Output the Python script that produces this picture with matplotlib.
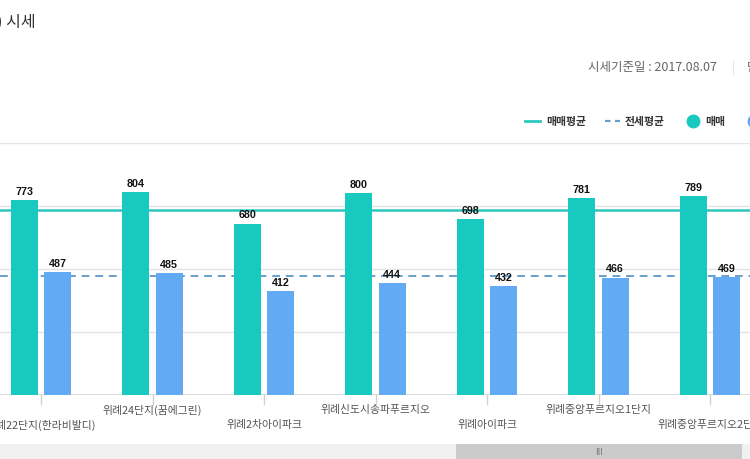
import matplotlib
matplotlib.use('Agg')
import matplotlib.pyplot as plt
import numpy as np
from matplotlib.patches import Rectangle
from matplotlib.lines import Line2D
from matplotlib.transforms import blended_transform_factory

plt.rcParams['font.family'] = ['Noto Sans CJK KR', 'DejaVu Sans']

# Data
complexes = ['위례22단지(한라비발디)', '위례24단지(꿈에그린)', '위례2차아이파크',
             '위례신도시송파푸르지오', '위례아이파크', '위례중앙푸르지오1단지',
             '위례중앙푸르지오2단지']
sale = [773, 804, 680, 800, 698, 781, 789]
jeonse = [487, 485, 412, 444, 432, 466, 469]
sale_avg = 735
jeonse_avg = 471

W, H = 750, 460
green = '#17c9be'
blue = '#63aaf4'
avg_green = '#2ec6c1'
avg_blue = '#6a9fc8'

fig = plt.figure(figsize=(7.5, 4.6), dpi=100)

def fx(px):
    return px / W

def fy(py):
    return 1 - py / H

# plot area: value 0 at y=396, 1000 at y=144; group centres every 111.5px from x=41
step = 111.5
ax = fig.add_axes([0, fy(396), 1, (396 - 144) / H])
ax.set_xlim(-41 / step, (W - 41) / step)
ax.set_ylim(0, 1000)
for s in ax.spines.values():
    s.set_visible(False)
ax.set_yticks([])
ax.set_xticks([])

for v in [250, 500, 750, 1000]:
    ax.axhline(v, color='#e3e3e3', lw=1, zorder=0)
ax.axhline(0, color='#d6d6d6', lw=1.2, zorder=0)

x = np.arange(len(complexes))
bw = 0.242
off = 0.15
b1 = ax.bar(x - off, sale, bw, color=green, zorder=2)
b2 = ax.bar(x + off, jeonse, bw, color=blue, zorder=2)

ax.axhline(sale_avg, color=avg_green, lw=1.8, zorder=1)
ax.axhline(jeonse_avg, color=avg_blue, lw=1.4, ls=(0, (4, 3)), zorder=1)

for bars, vals in [(b1, sale), (b2, jeonse)]:
    for b, v in zip(bars, vals):
        ax.annotate(str(v), (b.get_x() + b.get_width() / 2, v),
                    xytext=(0, 3), textcoords='offset points',
                    ha='center', va='bottom', fontsize=7.7, fontweight='bold',
                    family=['Liberation Sans', 'DejaVu Sans'], color='#111111', zorder=4)

# tick marks and staggered category labels
tr = blended_transform_factory(ax.transData, fig.transFigure)
for i, name in enumerate(complexes):
    ax.plot([i, i], [fy(396), fy(405)], transform=tr, color='#d0d0d0', lw=1,
            clip_on=False)
    ypx = 425 if i % 2 == 0 else 410.5
    ax.text(i, fy(ypx), name, transform=tr, ha='center', va='center',
            fontsize=7.8, color='#555555')

# title and date
fig.text(fx(-3), fy(22), ') 시세', fontsize=11.5, color='#333333', va='center')
fig.text(fx(717), fy(68), '시세기준일 : 2017.08.07', fontsize=9, color='#666666',
         va='center', ha='right')
fig.text(fx(733), fy(68), '|', fontsize=9, color='#dddddd', va='center', ha='center')
fig.text(fx(747), fy(68), '단위 : 만원', fontsize=9, color='#666666', va='center')

# legend
ly = fy(122)
fig.add_artist(Line2D([fx(525), fx(540)], [ly, ly], color=avg_green, lw=2))
fig.text(fx(546), ly, '매매평균', fontsize=7.8, color='#333333', va='center',
         fontweight='bold')
fig.add_artist(Line2D([fx(605), fx(620)], [ly, ly], color=avg_blue, lw=1.6,
                      ls=(0, (2.5, 2))))
fig.text(fx(625), ly, '전세평균', fontsize=7.8, color='#333333', va='center',
         fontweight='bold')
fig.add_artist(Line2D([fx(693)], [ly], marker='o', ms=9, color=green, lw=0))
fig.text(fx(705), ly, '매매', fontsize=7.8, color='#333333', va='center',
         fontweight='bold')
fig.add_artist(Line2D([fx(754)], [ly], marker='o', ms=9, color=blue, lw=0))

# scrollbar at bottom
fig.add_artist(Rectangle((0, 0), 1, fy(445), transform=fig.transFigure,
                         color='#f1f1f1', lw=0))
fig.add_artist(Rectangle((fx(456), 0), fx(742 - 456), fy(445),
                         transform=fig.transFigure, color='#cbcbcb', lw=0))
fig.text(fx(599), fy(453), 'III', fontsize=6.5, color='#777777', ha='center',
         va='center', family=['DejaVu Sans'])

fig.savefig('out.png', dpi=100)
